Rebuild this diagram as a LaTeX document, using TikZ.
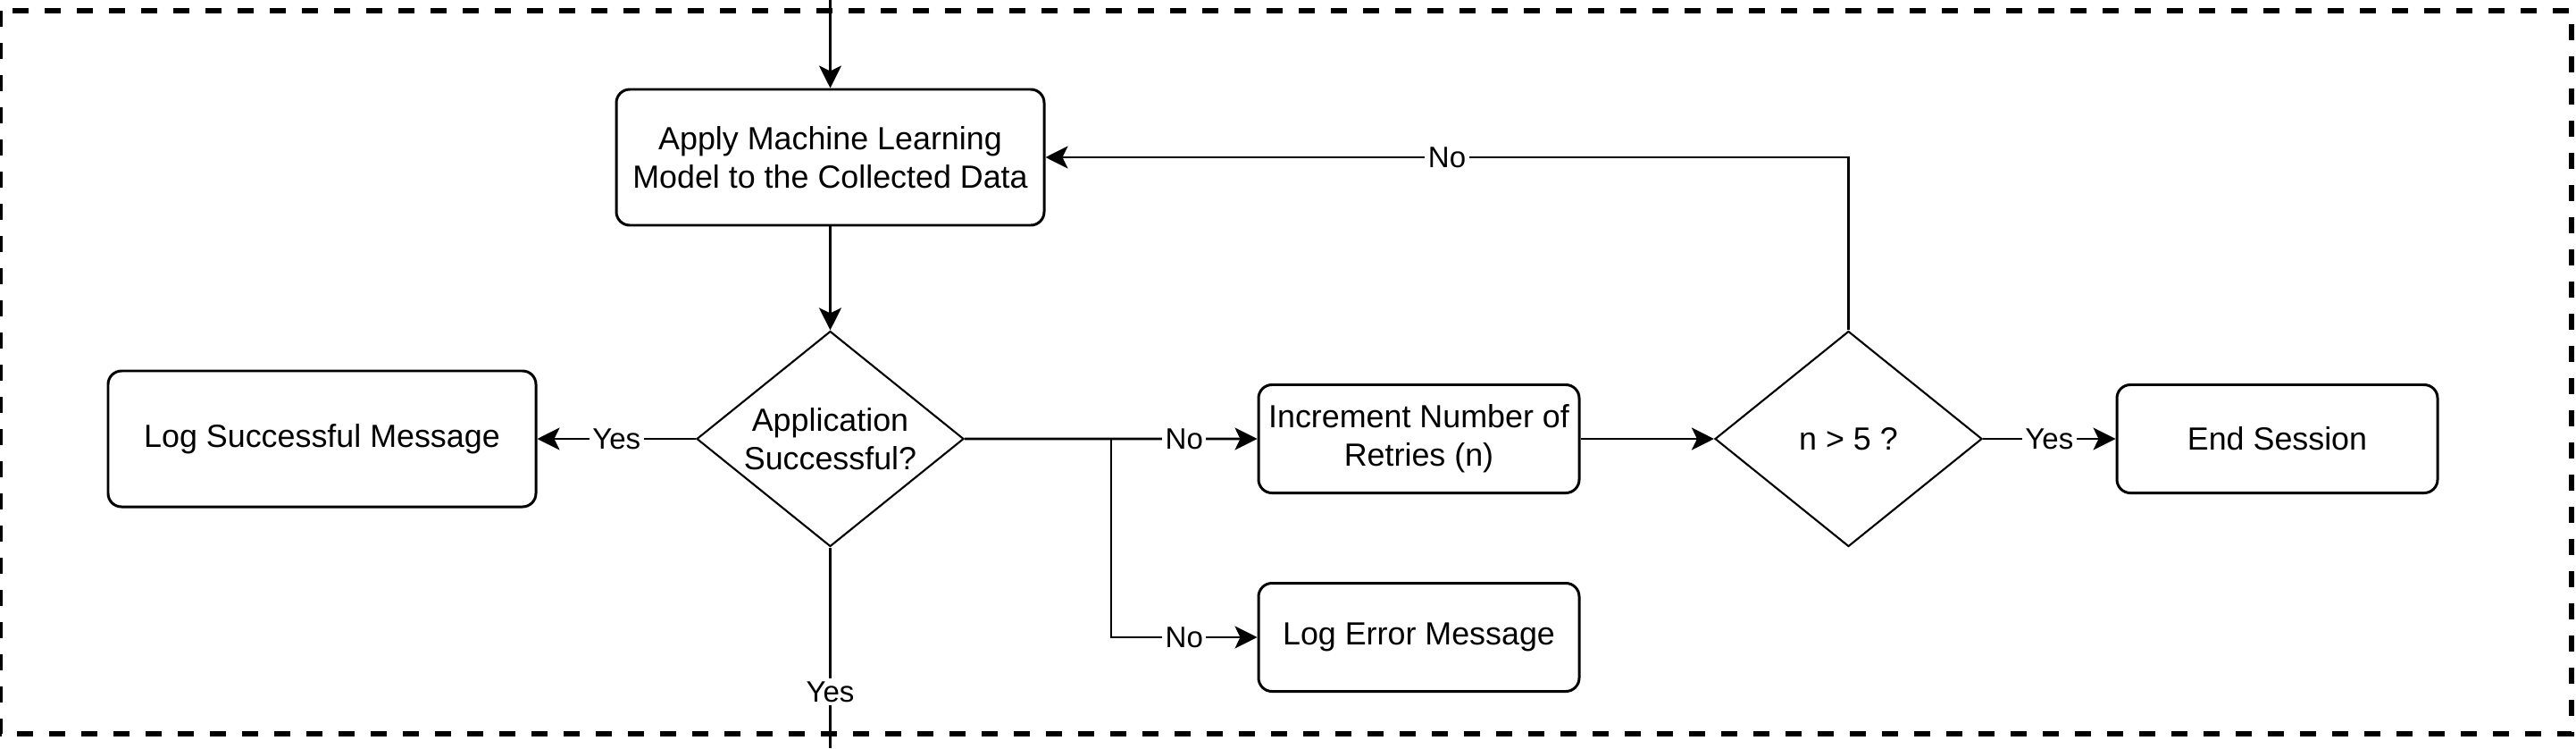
\documentclass[tikz,border=0pt]{standalone}
\usepackage{fontspec}
\setmainfont{Liberation Sans}
\usepackage{tikz}
\usetikzlibrary{shapes.geometric}
\usetikzlibrary{positioning}
\usetikzlibrary{arrows.meta}
\tikzstyle{bigbox} = [rectangle, rounded corners=0.15cm, minimum width=4.79cm, minimum height=1.52cm, inner sep=0.05cm, text centered, draw=black, line width=0.85pt, font=\fontsize{10.2}{12.3}\selectfont]
\tikzstyle{smallbox} = [bigbox, minimum width=3.59cm, minimum height=1.21cm]
\tikzstyle{decision} = [diamond, aspect=1.24, minimum width=2.99cm, minimum height=2.41cm, inner sep=0pt, text centered, draw=black, line width=0.6pt, font=\fontsize{10.2}{12.3}\selectfont]
\tikzstyle{arrow} = [line width=0.75pt,-{Stealth[length=0.25cm,width=0.25cm,inset=0.06cm]}]
\tikzstyle{lbl} = [fill=white, inner sep=1pt, font=\fontsize{9.4}{11}\selectfont]
\tikzstyle{frame} = [line width=1.7pt, dash pattern=on 0.18cm off 0.18cm]

\begin{document}
\begin{tikzpicture}[node distance=3.15cm]
        \useasboundingbox (0,0) rectangle (28.84,-8.37);
        \draw [frame] (0.005,-0.117) rectangle (28.79,-8.21);

        \node (apply) [bigbox, align=center] at (9.295,-1.76) {Apply Machine Learning\\Model to the Collected Data};
        \node (check) [decision, below of=apply, align=center] {Application\\Successful?};
        \node (logok) [bigbox, left of=check, xshift=-2.54cm, align=center] {Log Successful Message};
        \node (incr) [smallbox, right of=check, xshift=3.44cm, align=center] {Increment Number of\\Retries (n)};
        \node (logerr) [smallbox, below of=incr, yshift=0.93cm, align=center] {Log Error Message};
        \node (retry) [decision, right of=incr, xshift=1.66cm, align=center] {n > 5 ?};
        \node (endsess) [smallbox, right of=retry, xshift=1.65cm, align=center] {End Session};

        \coordinate (entry) at (9.295,0);
        \coordinate (split) at (12.44,-4.91);
        \coordinate (exit) at (9.295,-8.37);

        \draw [arrow] (entry) -- (apply);
        \draw [arrow] (apply) -- (check);
        \draw [arrow] (check.west) -- node[lbl] {Yes} (logok.east);
        \draw [arrow] (check.east) -- (split) -- node[lbl] {No} (incr.west);
        \draw [arrow] (split) |- node[lbl, pos=0.75] {No} (logerr.west);
        \draw [arrow] (incr.east) -- (retry.west);
        \draw [arrow] (retry.east) -- node[lbl] {Yes} (endsess.west);
        \draw [arrow] (retry.north) |- node[lbl, pos=0.75] {No} (apply.east);
        \draw [line width=0.75pt] (check.south) -- node[lbl, pos=0.72] {Yes} (exit);
    \end{tikzpicture}
\end{document}
